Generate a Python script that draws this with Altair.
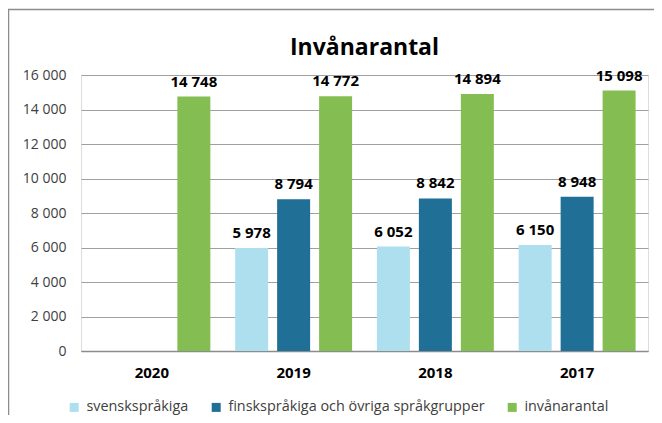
import altair as alt
import pandas as pd

years = ["2020", "2019", "2018", "2017"]
series = ["svenskspråkiga", "finskspråkiga och övriga språkgrupper", "invånarantal"]
svensk = [None, 5978, 6052, 6150]
finsk = [None, 8794, 8842, 8948]
invanare = [14748, 14772, 14894, 15098]
colors = ["#ADDFEF", "#1F6F96", "#84BE52"]
y_ticks = [0, 2000, 4000, 6000, 8000, 10000, 12000, 14000, 16000]
title_text = "Invånarantal"

rows = []
for name, vals in zip(series, [svensk, finsk, invanare]):
    for yr, v in zip(years, vals):
        if v is not None:
            rows.append({"year": yr, "series": name, "value": v})
df = pd.DataFrame(rows)

FONT = "Open Sans"
fmt = "replace(format(datum.value, ','), regexp(',', 'g'), ' ')"

x_enc = alt.X("year:N", sort=years,
              scale=alt.Scale(paddingInner=0.175, paddingOuter=0.0875),
              axis=alt.Axis(title=None, labelAngle=0, labelFont=FONT, labelFontSize=15,
                            labelFontWeight="bold", labelColor="#000000", ticks=False,
                            labelPadding=14, domainColor="#8c8c8c", domainWidth=1.5,
                            grid=False))
xoff = alt.XOffset("series:N", sort=series,
                   scale=alt.Scale(domain=series, paddingInner=0.214, paddingOuter=0))
y_enc = alt.Y("value:Q", scale=alt.Scale(domain=[0, 16000], nice=False),
              axis=alt.Axis(title=None, values=y_ticks, tickCount=50, labelOverlap=False,
                            labelExpr=fmt, labelFont=FONT,
                            labelFontSize=14, labelColor="#404040", ticks=False,
                            labelPadding=15, domain=False, gridColor="#a0a0a0",
                            gridWidth=1))

base = alt.Chart(df)

bars = base.mark_bar().encode(
    x=x_enc,
    xOffset=xoff,
    y=y_enc,
    color=alt.Color("series:N", sort=series,
                    scale=alt.Scale(domain=series, range=colors),
                    legend=alt.Legend(title=None, orient="none", direction="horizontal",
                                      legendX=-14, legendY=325, symbolType="square",
                                      symbolSize=81, symbolStrokeWidth=0, labelFont=FONT,
                                      labelFontSize=14.4, labelColor="#404040",
                                      labelLimit=500, labelOffset=5, columnPadding=20)),
)

labels = base.transform_calculate(
    label=fmt
).mark_text(font=FONT, fontSize=15, fontWeight="bold", color="#000000",
            baseline="alphabetic", dy=-10).encode(
    x=x_enc,
    xOffset=xoff,
    y=y_enc,
    text="label:N",
)

one = pd.DataFrame({"t": [title_text]})
title = alt.Chart(one).mark_text(font=FONT, fontSize=23, fontWeight="bold", color="#000000",
                                 align="center", baseline="alphabetic").encode(
    x=alt.value(283.5), y=alt.value(-20.5), text="t:N")

border_v = alt.Chart(pd.DataFrame({"a": [0]})).mark_rule(color="#8c8c8c", strokeWidth=1.5).encode(
    x=alt.value(-72.5), y=alt.value(-66), y2=alt.value(420))
border_h = alt.Chart(pd.DataFrame({"a": [0]})).mark_rule(color="#8c8c8c", strokeWidth=1.5).encode(
    x=alt.value(-73), x2=alt.value(700), y=alt.value(-65.5))

chart = alt.layer(bars, labels, title, border_v, border_h).properties(
    width=567, height=276,
    padding={"left": 73, "top": 67, "right": 6, "bottom": 64},
    autosize=alt.AutoSizeParams(type="none"),
).configure_view(stroke=None).configure(background="#ffffff")

chart.save("out.html", embed_options={"renderer": "svg", "actions": False})
